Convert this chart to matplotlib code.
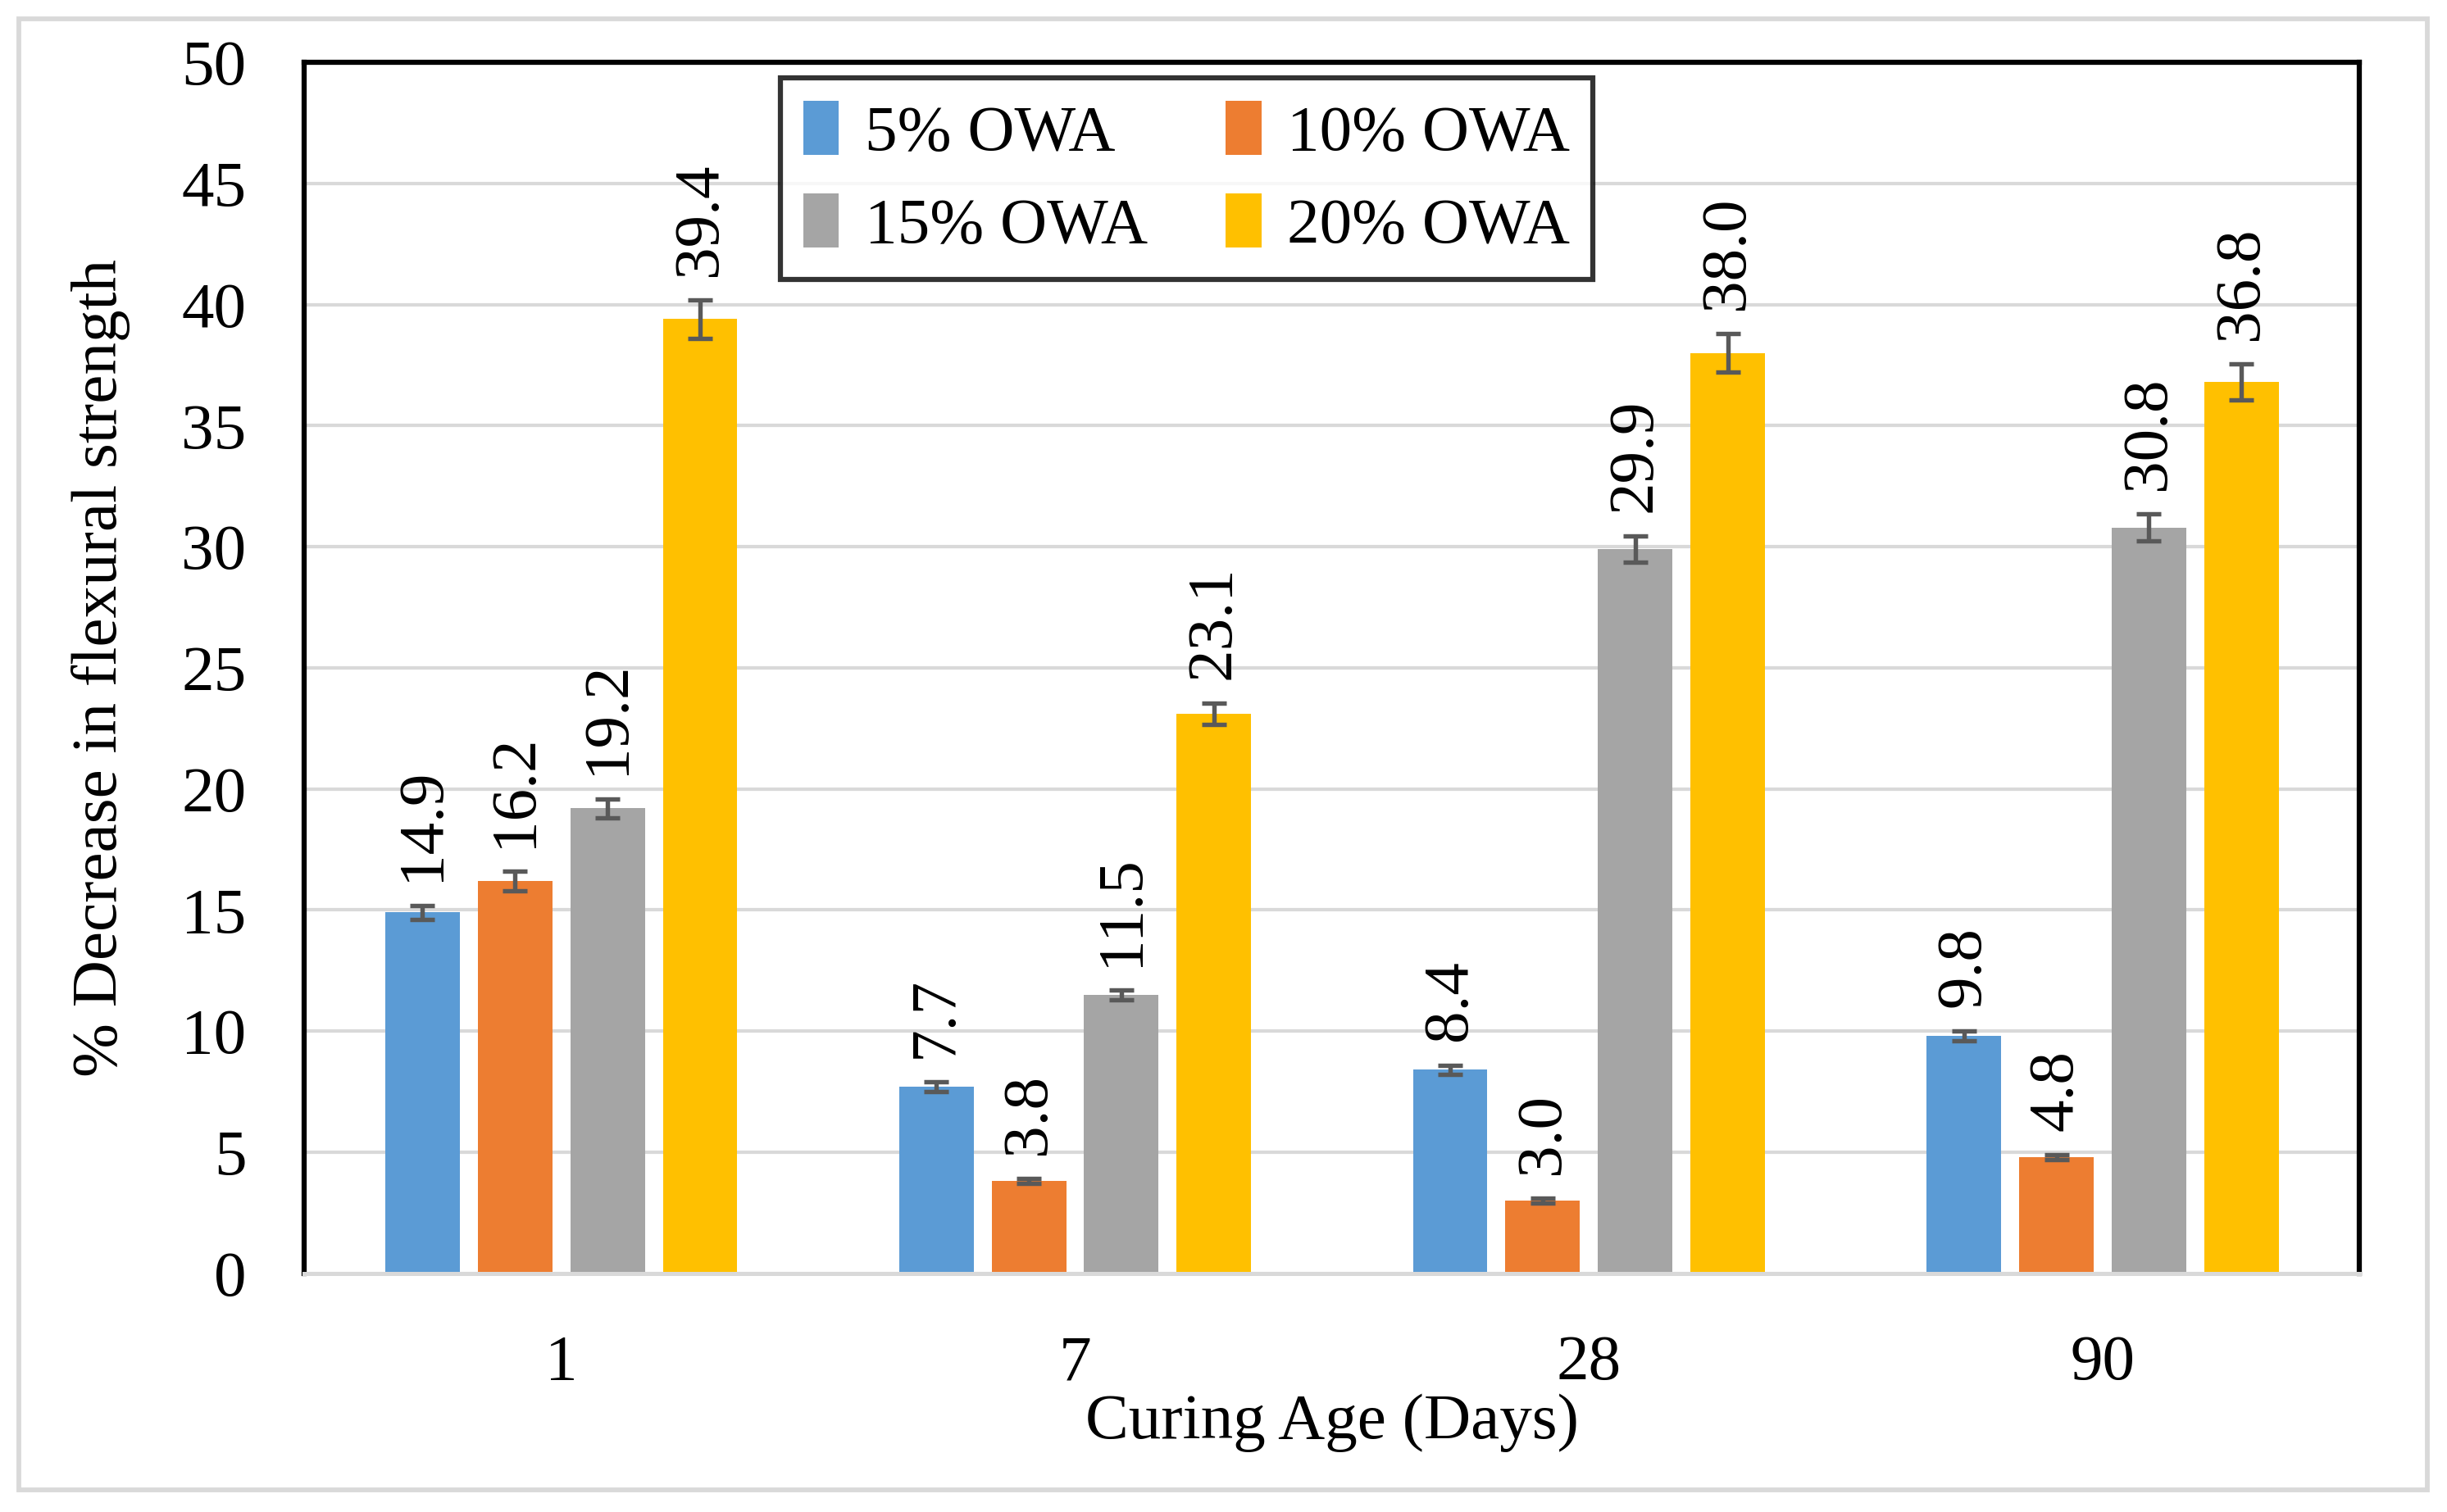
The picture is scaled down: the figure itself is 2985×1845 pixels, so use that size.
import numpy as np
import matplotlib.pyplot as plt
from matplotlib.patches import Rectangle

plt.rcParams['font.family'] = ['Liberation Serif', 'DejaVu Serif']

days = ["1", "7", "28", "90"]
series = ["5% OWA", "10% OWA", "15% OWA", "20% OWA"]
owa5 = [14.9, 7.7, 8.4, 9.8]
owa10 = [16.2, 3.8, 3.0, 4.8]
owa15 = [19.2, 11.5, 29.9, 30.8]
owa20 = [39.4, 23.1, 38.0, 36.8]
err5 = [0.3, 0.2, 0.2, 0.2]
err10 = [0.4, 0.1, 0.1, 0.1]
err15 = [0.4, 0.2, 0.55, 0.55]
err20 = [0.8, 0.45, 0.8, 0.75]
colors = ["#5B9BD5", "#ED7D31", "#A5A5A5", "#FFC000"]

values = [owa5, owa10, owa15, owa20]
errors = [err5, err10, err15, err20]

fig = plt.figure(figsize=(9.95, 6.15), dpi=300)
ax = fig.add_axes([0.1244, 0.1579, 0.8399, 0.8008])

x = np.arange(len(days))
w = 0.145
offsets = [-0.27, -0.09, 0.09, 0.27]

bars = []
for vals, errs, col, lab, off in zip(values, errors, colors, series, offsets):
    b = ax.bar(x + off, vals, w, color=col, label=lab, zorder=2,
               yerr=errs, error_kw=dict(ecolor="#595959", elinewidth=1.3, capsize=3.5, capthick=1.3, zorder=3))
    bars.append(b)
    for xi, v, e in zip(x + off, vals, errs):
        ax.annotate(f"{v:.1f}", xy=(xi, v + e), xytext=(0, 7), textcoords="offset points",
                    rotation=90, ha="center", va="bottom", fontsize=19)

ax.set_xlim(-0.5, 3.5)
ax.set_ylim(0, 50)
ax.set_yticks(np.arange(0, 51, 5))
ax.set_xticks(x)
ax.set_xticklabels(days)
ax.tick_params(axis="both", length=0, labelsize=19)
ax.tick_params(axis="y", pad=17)
ax.tick_params(axis="x", pad=18)
ax.grid(axis="y", color="#D9D9D9", linewidth=1.0, zorder=0)
ax.set_axisbelow(True)

for s in ["left", "top", "right"]:
    ax.spines[s].set_color("black")
    ax.spines[s].set_linewidth(1.5)
ax.spines["bottom"].set_color("#D9D9D9")
ax.spines["bottom"].set_linewidth(1.2)

ax.set_ylabel("% Decrease in flexural strength", fontsize=19, labelpad=15)
ax.set_xlabel("Curing Age (Days)", fontsize=19, labelpad=0)

# row-wise legend order: 5%, 10% on top, 15%, 20% below
order = [0, 2, 1, 3]
leg = ax.legend([bars[i] for i in order], [series[i] for i in order],
                ncol=2, loc="upper left", bbox_to_anchor=(0.2316, 0.987), fontsize=19,
                frameon=True, fancybox=False, handlelength=0.55, handleheight=0.9,
                handletextpad=0.4, columnspacing=1.2, labelspacing=0.45, borderpad=0.35,
                borderaxespad=0)
leg.get_frame().set_edgecolor("black")
leg.get_frame().set_linewidth(1.5)

fig.patches.append(Rectangle((0.0077, 0.0145), 0.9841, 0.9731, transform=fig.transFigure,
                             fill=False, edgecolor="#D9D9D9", linewidth=1.4))

fig.savefig("out.png", dpi=300)
